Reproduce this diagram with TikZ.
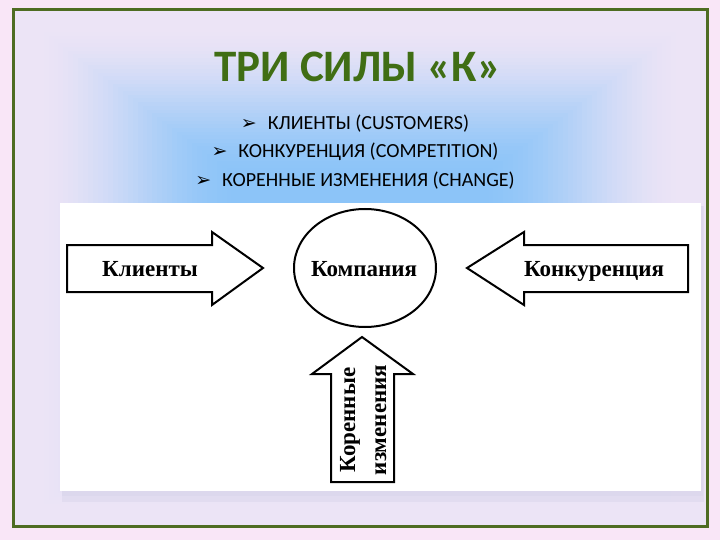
\documentclass[tikz,border=0pt]{standalone}
\usepackage{fontspec}
\setmainfont{Liberation Serif}
\newfontfamily\calibrifont{Carlito}
\newfontfamily\dejavufont{DejaVu Sans}
\usetikzlibrary{shapes.geometric}
\definecolor{pinkbg}{RGB}{249,230,247}
\definecolor{lav}{RGB}{236,228,246}
\definecolor{blu}{RGB}{140,196,248}
\definecolor{framegreen}{RGB}{78,108,34}
\definecolor{titlegreen}{RGB}{64,110,20}
\definecolor{shadowlav}{RGB}{218,214,236}
\tikzset{
  blockarrow/.style={draw=black, line width=2pt, fill=white, line join=miter},
  lbl/.style={font=\fontsize{23}{26}\selectfont\bfseries, text=black, inner sep=0pt, anchor=base},
  bullet/.style={font=\calibrifont\fontsize{20}{24}\selectfont, text={RGB:red,26;green,26;blue,26}, anchor=base, inner sep=0pt},
  titlestyle/.style={font=\calibrifont\bfseries\fontsize{45}{50}\selectfont, text=titlegreen, anchor=base, inner sep=0pt},
  company/.style={ellipse, draw=black, line width=2pt, fill=white, minimum width=142pt, minimum height=118pt, inner sep=0pt}
}
\newcommand{\bul}{{\dejavufont\fontsize{19}{20}\selectfont ➢}\hspace{11pt}}
\begin{document}
\begin{tikzpicture}[x=1pt,y=-1pt]
\useasboundingbox (0,0) rectangle (720,540);
\fill[pinkbg] (0,0) rectangle (720,540);
% gradient inside frame
\fill[lav] (13,10) rectangle (707,526);
\foreach \i in {0,...,70}{
  \pgfmathsetmacro\t{1-\i/70}
  \pgfmathsetmacro\s{max(0,min(1,(0.95-\t)/0.6))}
  \pgfmathsetmacro\p{100*\s*\s*(3-2*\s)}
  \pgfmathsetmacro\hx{346*\t}
  \pgfmathsetmacro\hy{258*\t}
  \fill[blu!\p!lav] (360-\hx,268-\hy) rectangle (360+\hx,268+\hy);
}
\draw[framegreen, line width=3pt] (13,10) rectangle (707,526);
% shadow and white picture
\fill[shadowlav, opacity=0.5] (62,206) rectangle (704,502);
\fill[shadowlav, opacity=0.6] (62,206) rectangle (703,496);
\fill[white] (60,203) rectangle (701,491);
% title and bullets
\node[titlestyle] (title) at (358,82) {ТРИ СИЛЫ «К»};
\node[bullet] (b1) at (355,130) {\bul КЛИЕНТЫ (CUSTOMERS)};
\node[bullet] (b2) at (355,158) {\bul КОНКУРЕНЦИЯ (COMPETITION)};
\node[bullet] (b3) at (355,187) {\bul КОРЕННЫЕ ИЗМЕНЕНИЯ (CHANGE)};
% arrows
\draw[blockarrow] (67,245) -- (212,245) -- (212,232) -- (263,268) -- (212,305) -- (212,292) -- (67,292) -- cycle;
\draw[blockarrow] (688,245) -- (524,245) -- (524,232) -- (467,268) -- (524,305) -- (524,292) -- (688,292) -- cycle;
\draw[blockarrow] (331,482) -- (331,374) -- (312,374) -- (362,337) -- (413,374) -- (394,374) -- (394,482) -- cycle;
\node[company] (comp) at (365,268) {};
\node[lbl] (klienty) at (150,276) {Клиенты};
\node[lbl] (kompania) at (364,276) {Компания};
\node[lbl] (konk) at (594,276) {Конкуренция};
\node[lbl, rotate=90] (kor) at (355,420) {Коренные};
\node[lbl, rotate=90] (izm) at (386,420) {изменения};
\end{tikzpicture}
\end{document}
